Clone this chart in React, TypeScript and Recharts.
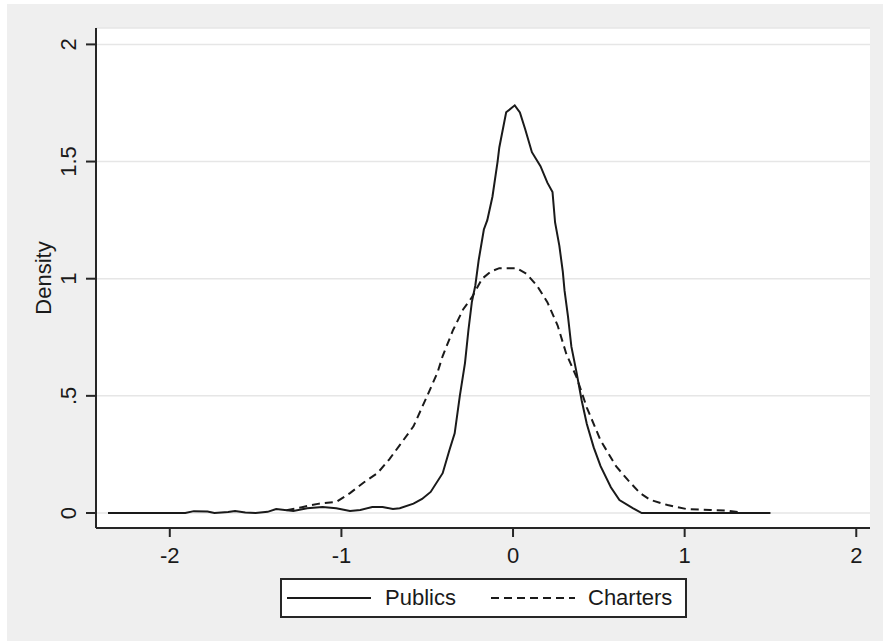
import { LineChart, Line, XAxis, YAxis, CartesianGrid, Legend } from 'recharts';

const FONT = '"Liberation Sans", Arial, sans-serif';
const INK = '#1a1a1a';
const AXIS = '#262626';

// kernel density
const publicsX = [
  -2.36, -1.91, -1.86, -1.78, -1.74, -1.66, -1.62, -1.56, -1.5, -1.43, -1.38, -1.28, -1.2, -1.11,
  -1.03, -0.95, -0.89, -0.82, -0.76, -0.7, -0.66, -0.58, -0.53, -0.48, -0.41, -0.37, -0.34, -0.31,
  -0.28, -0.26, -0.24, -0.22, -0.2, -0.17, -0.15, -0.12, -0.09, -0.08, -0.04, 0.01, 0.04, 0.07,
  0.11, 0.16, 0.2, 0.23, 0.245, 0.27, 0.29, 0.3, 0.32, 0.34, 0.37, 0.4, 0.43, 0.47, 0.51, 0.57,
  0.62, 0.7, 0.75, 1.5,
];
const publicsY = [
  0, 0, 0.008, 0.006, 0, 0.004, 0.008, 0.002, 0, 0.005, 0.017, 0.009, 0.02, 0.026,
  0.02, 0.009, 0.013, 0.026, 0.026, 0.017, 0.02, 0.04, 0.06, 0.09, 0.17, 0.27, 0.34, 0.5,
  0.64, 0.78, 0.9, 0.97, 1.08, 1.21, 1.25, 1.35, 1.5, 1.56, 1.71, 1.74, 1.71, 1.64,
  1.54, 1.48, 1.41, 1.37, 1.24, 1.14, 1.03, 0.95, 0.84, 0.71, 0.6, 0.48, 0.38, 0.28, 0.2, 0.11,
  0.055, 0.02, 0, 0,
];

const chartersX = [
  -1.32, -1.23, -1.13, -1.03, -0.95, -0.87, -0.79, -0.72, -0.66, -0.58, -0.5, -0.44, -0.41, -0.35,
  -0.29, -0.24, -0.18, -0.13, -0.08, 0.02, 0.08, 0.14, 0.2, 0.26, 0.31, 0.37, 0.43, 0.51, 0.6,
  0.67, 0.74, 0.8, 0.9, 1.01, 1.15, 1.25, 1.31,
];
const chartersY = [
  0.012, 0.025, 0.04, 0.047, 0.085, 0.13, 0.17, 0.23, 0.29, 0.37, 0.5, 0.6, 0.67, 0.78,
  0.87, 0.92, 1.0, 1.03, 1.045, 1.045, 1.02, 0.97, 0.9, 0.8, 0.68, 0.58, 0.45, 0.31, 0.2,
  0.14, 0.085, 0.056, 0.034, 0.017, 0.013, 0.01, 0.004,
];

const xTicks = [-2, -1, 0, 1, 2];
const yTicks = [0, 0.5, 1, 1.5, 2];

const publics = publicsX.map((x, i) => ({ x, y: publicsY[i] }));
const charters = chartersX.map((x, i) => ({ x, y: chartersY[i] }));

const fmtY = (v: number) => (v === 0 ? '0' : String(v).replace(/^0\./, '.'));

function YTick({ y, payload }: any) {
  return (
    <text
      transform={`translate(61, ${y}) rotate(-90)`}
      textAnchor="middle"
      dominantBaseline="central"
      fontFamily={FONT}
      fontSize={22}
      fill={INK}
    >
      {fmtY(payload.value)}
    </text>
  );
}

function XTick({ x, payload }: any) {
  return (
    <text x={x} y={551} textAnchor="middle" dominantBaseline="central" fontFamily={FONT} fontSize={22} fill={INK}>
      {payload.value}
    </text>
  );
}

function LegendBox() {
  return (
    <div
      style={{
        position: 'relative',
        width: 407,
        height: 40,
        boxSizing: 'border-box',
        border: `2px solid ${AXIS}`,
        background: '#fff',
        fontFamily: FONT,
        fontSize: 22,
        color: INK,
      }}
    >
      <svg width={90} height={36} style={{ position: 'absolute', left: 5, top: 0 }}>
        <line x1={0} x2={84} y1={18} y2={18} stroke={INK} strokeWidth={2} />
      </svg>
      <span style={{ position: 'absolute', left: 103, top: 5, lineHeight: '26px' }}>Publics</span>
      <svg width={90} height={36} style={{ position: 'absolute', left: 209, top: 0 }}>
        <line x1={0} x2={84} y1={18} y2={18} stroke={INK} strokeWidth={2} strokeDasharray="8 5" />
      </svg>
      <span style={{ position: 'absolute', left: 306, top: 5, lineHeight: '26px' }}>Charters</span>
    </div>
  );
}

export default function App() {
  return (
    <div style={{ width: 883, height: 641, background: '#fff', position: 'relative' }}>
      <style>{'body{margin:0}'}</style>
      <div style={{ position: 'absolute', left: 7, top: 4, background: '#efefef' }}>
        <LineChart width={876} height={637} margin={{ top: 24, right: 13, left: 0, bottom: 83 }}>
          <CartesianGrid vertical={false} stroke="#e6e6e6" strokeWidth={1.5} fill="#fff" />
          <XAxis
            type="number"
            dataKey="x"
            domain={[-2.43, 2.08]}
            ticks={xTicks}
            allowDataOverflow
            height={30}
            tickSize={9}
            axisLine={{ stroke: AXIS, strokeWidth: 2 }}
            tickLine={{ stroke: AXIS, strokeWidth: 2 }}
            tick={<XTick />}
          />
          <YAxis
            type="number"
            dataKey="y"
            domain={[-0.064, 2.07]}
            ticks={yTicks}
            allowDataOverflow
            width={89}
            tickSize={10}
            axisLine={{ stroke: AXIS, strokeWidth: 2 }}
            tickLine={{ stroke: AXIS, strokeWidth: 2 }}
            tick={<YTick />}
            label={{
              value: 'Density',
              angle: -90,
              position: 'center',
              dx: -8,
              fontFamily: FONT,
              fontSize: 22,
              fill: INK,
            }}
          />
          <Legend
            layout="horizontal"
            verticalAlign="middle"
            content={<LegendBox />}
            wrapperStyle={{ left: 273, top: 574, width: 407, height: 40 }}
          />
          <Line
            data={publics}
            dataKey="y"
            name="Publics"
            type="linear"
            stroke={INK}
            strokeWidth={2}
            dot={false}
            isAnimationActive={false}
          />
          <Line
            data={charters}
            dataKey="y"
            name="Charters"
            type="linear"
            stroke={INK}
            strokeWidth={2}
            strokeDasharray="8 5"
            dot={false}
            isAnimationActive={false}
          />
        </LineChart>
      </div>
    </div>
  );
}
